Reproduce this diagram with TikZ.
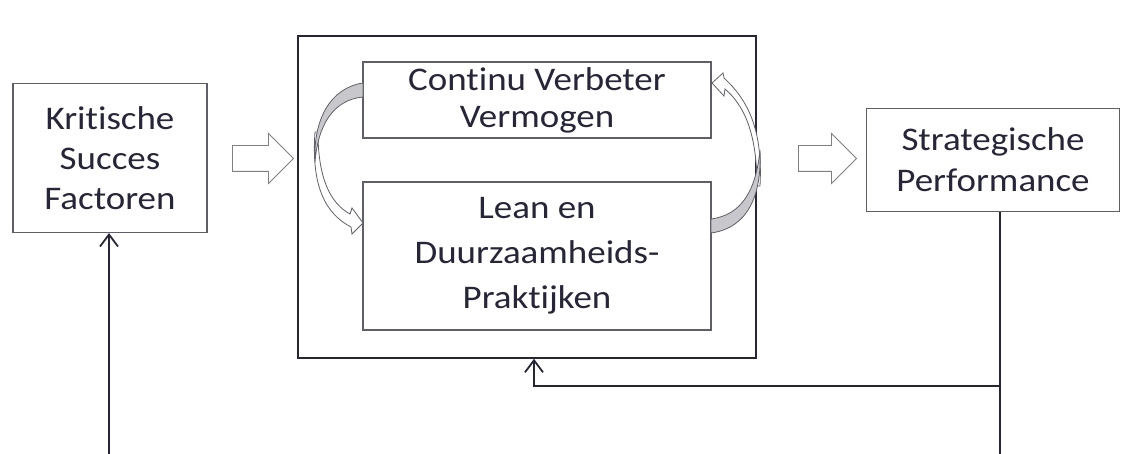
\documentclass[tikz,border=0pt]{standalone}
\usepackage{fontspec}
\setmainfont{Carlito}[FakeStretch=1.12, RawFeature=-liga]
\usepackage{tikz}
\usetikzlibrary{arrows.meta,shapes.arrows}

\definecolor{inkc}{RGB}{38,38,56}
\definecolor{framec}{RGB}{95,95,105}
\definecolor{backc}{RGB}{200,200,204}

\begin{document}
\begin{tikzpicture}[
    x=1pt, y=-1pt,
    font=\fontsize{33}{40}\selectfont,
    text=inkc,
    box/.style={draw=framec, line width=1.1pt, fill=white, align=center, inner sep=0pt},
    outerbox/.style={draw=inkc, line width=1.6pt, inner sep=0pt},
    blockarrow/.style={single arrow, draw=framec!80, line width=0.9pt, fill=white,
      inner xsep=0pt, inner ysep=12.5pt, single arrow head extend=12pt,
      single arrow tip angle=90},
    flow/.style={draw=inkc, line width=1.8pt, -{Straight Barb[length=12pt,width=18pt,line width=1.8pt]}},
    line/.style={draw=inkc, line width=1.8pt},
    backface/.style={draw=framec, line width=0.8pt, fill=backc},
    frontface/.style={draw=framec, line width=0.8pt, fill=white}
  ]
  \useasboundingbox (0,0) rectangle (1130,454);

  % Critical success factors
  \node[box, minimum width=194pt, minimum height=149pt] (ksf) at (110,158) {Kritische\\Succes\\Factoren};

  % Outer frame with the two inner blocks
  \node[outerbox, minimum width=458pt, minimum height=322pt] (outer) at (527,197) {};
  \node[box, minimum width=348pt, minimum height=76pt, font=\fontsize{33}{37}\selectfont] (cvv) at (537,100) {Continu Verbeter\\Vermogen};
  \node[box, minimum width=348pt, minimum height=148pt, font=\fontsize{33}{45}\selectfont] (ldp) at (537,256) {Lean en\\Duurzaamheids-\\Praktijken};

  % Strategic performance
  \node[box, minimum width=253pt, minimum height=103pt, font=\fontsize{33}{41}\selectfont] (sp) at (993,160) {Strategische\\Performance};

  % Hollow block arrows
  \node[blockarrow, minimum height=61pt] (ba1) at (256.5,158.5) {};
  \node[blockarrow, minimum height=58pt] (ba2) at (821,158.5) {};

  % Curved arrow on the left (top block -> bottom block)
  \path[frontface] (315,132) .. controls (311,187) and (326,214) .. (351,227)
    -- (352,234) -- (363,223) -- (352,208) -- (350,214)
    .. controls (330,203) and (318,178) .. (318,132) -- cycle;
  \path[backface] (363,83) .. controls (330,88) and (313,120) .. (315,162)
    .. controls (318,125) and (333,100) .. (363,97) -- cycle;

  % Curved arrow on the right (bottom block -> top block)
  \path[frontface] (760,186) .. controls (763,130) and (748,100) .. (724,78)
    -- (723,73) -- (712,83) -- (724,96) -- (725,89)
    .. controls (745,106) and (757,135) .. (757,186) -- cycle;
  \path[backface] (711,233) .. controls (748,228) and (762,195) .. (760,150)
    .. controls (756,190) and (742,215) .. (711,219) -- cycle;

  % Feedback lines
  \coordinate (split) at (1000,386);
  \coordinate (fbin) at (534,386);
  \coordinate (bottomR) at (1000,454);
  \coordinate (bottomL) at (109,454);
  \draw[line] (sp.south -| split) -- (bottomR);
  \draw[flow] (split) -- (fbin) -- (fbin |- outer.south);
  \draw[flow] (bottomL) -- (bottomL |- ksf.south);
\end{tikzpicture}
\end{document}
